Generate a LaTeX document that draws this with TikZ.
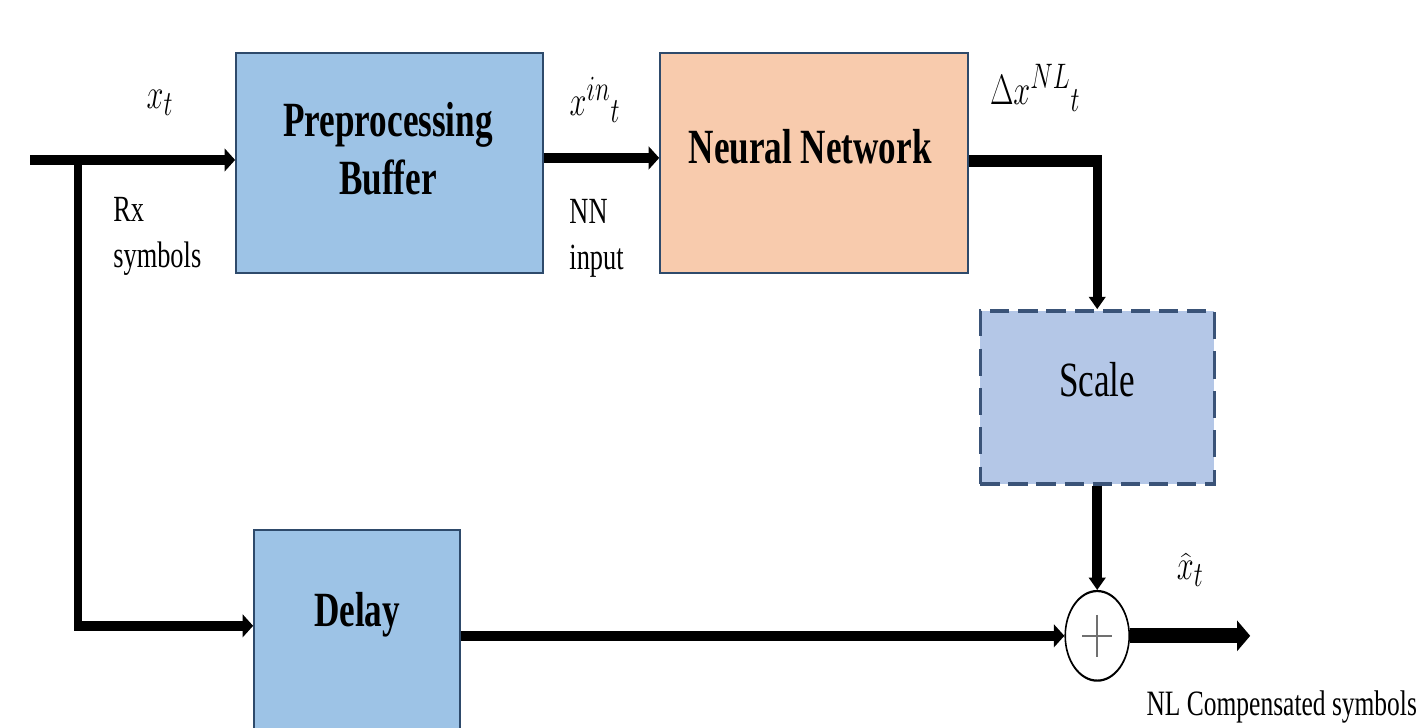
\documentclass[tikz,border=0pt]{standalone}
\usepackage{fontspec}
\setmainfont{Liberation Serif}
\usetikzlibrary{arrows.meta,fit}
\definecolor{boxblue}{HTML}{9DC3E6}
\definecolor{boxpeach}{HTML}{F8CBAD}
\definecolor{scaleblue}{HTML}{B4C7E7}
\definecolor{edgeblue}{HTML}{2E4A6B}
\definecolor{scaleedge}{HTML}{3A5378}
\definecolor{plusgray}{HTML}{707070}
\tikzset{
  blk/.style={draw=edgeblue, line width=1pt, inner sep=0pt},
  boxtxt/.style={font=\fontsize{20}{23.5}\selectfont\bfseries, align=center, inner sep=0pt},
  sctxt/.style={font=\fontsize{20}{23.5}\selectfont, align=center, inner sep=0pt},
  lbl/.style={font=\fontsize{15}{18.7}\selectfont, align=left, inner sep=0pt},
  mlbl/.style={font=\fontsize{19}{23}\selectfont, inner sep=0pt},
  sig/.style={line width=4.25pt, line join=miter},
  sigthick/.style={line width=5.1pt, line join=miter},
  htip/.style={-{Triangle[length=6pt,width=9pt]}},
  vtip/.style={-{Triangle[length=5pt,width=9.5pt]}},
  otip/.style={-{Triangle[length=7.5pt,width=12pt]}},
}
\begin{document}
\begin{tikzpicture}
\useasboundingbox (0,0) rectangle (28.48,-14.54);
\clip (0,0) rectangle (28.48,-14.54);
\begin{scope}[transform canvas={yscale=1.4}, x=0.02cm, y=-0.0142857cm]
  % blocks
  \node[blk, fill=boxblue, fit={(236,53) (543,273)}] (pre) {};
  \node[blk, fill=boxpeach, fit={(660,53) (968,273)}] (nn) {};
  \node[draw=scaleedge, line width=1.5pt, dash pattern=on 11pt off 5pt, fill=scaleblue, inner sep=0pt, fit={(980,311) (1214,484)}] (sc) {};
  \node[blk, fill=boxblue, fit={(254,530) (460,780)}] (dly) {};
  \node[draw=black, line width=0.9pt, fill=white, circle, minimum size=1.28cm, inner sep=0pt] (sum) at (1097,636) {};
  \draw[plusgray, line width=1pt] (sum.center) +(-15,0) -- +(15,0);
  \draw[plusgray, line width=1pt] (sum.center) +(0,-21) -- +(0,21);

  % block texts
  \node[boxtxt] (pretxt) at (388,149) {Preprocessing\\Buffer};
  \node[boxtxt] (nntxt) at (810,147) {Neural Network};
  \node[sctxt] (sctxt) at (1097,380) {Scale};
  \node[boxtxt] (dlytxt) at (357,615) {Delay};

  % labels
  \node[mlbl] (lxt) at (160,103) {$x_t$};
  \node[lbl, anchor=west] (lrx) at (113,236) {Rx\\symbols};
  \node[mlbl] (lxin) at (595,100) {$x^{in}{}_{t}$};
  \node[lbl, anchor=west] (lnn) at (569,238) {NN\\input};
  \node[mlbl] (ldx) at (1035,88) {$\Delta x^{NL}{}_{t}$};
  \node[mlbl] (lxh) at (1190,570) {$\widehat{x}_t$};
  \node[lbl, font=\fontsize{14.5}{18}\selectfont, anchor=base west] (lout) at (1146,716) {NL Compensated symbols};

  % coordinates
  \coordinate (in) at (30,160);
  \coordinate (br) at (78,160);
  \coordinate (dl) at (0,626);
  \coordinate (pn) at (0,158);
  \coordinate (no) at (0,161);
  \coordinate (out) at (1250,636);

  % connectors
  \draw[sig, htip] (in) -- (in -| pre.west);
  \draw[sig, htip] (br) -- (br |- dl) -- (dly.west |- dl);
  \draw[sig, htip] (pre.east |- pn) -- (nn.west |- pn);
  \draw[sigthick, vtip] (nn.east |- no) -- (sc.north |- no) -- (sc.north);
  \draw[line width=5.5pt, vtip] (sc.south) -- (sum.north);
  \draw[line width=4pt, htip] (dly.east |- sum) -- (sum.west);
  \draw[line width=6pt, otip] (sum.east) -- (out);
\end{scope}
\end{tikzpicture}
\end{document}
